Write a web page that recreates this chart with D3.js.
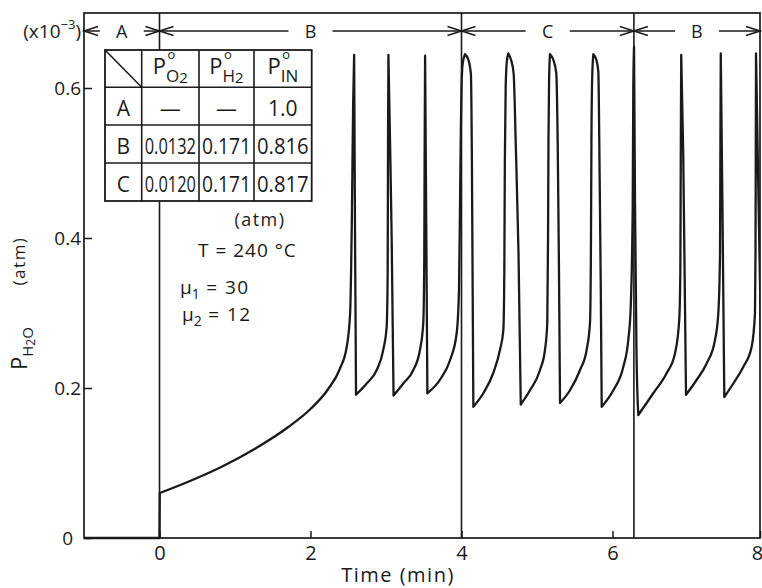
<!DOCTYPE html>
<html><head><meta charset="utf-8">
<script src="https://cdn.jsdelivr.net/npm/d3@7"></script>
<style>
html,body{margin:0;padding:0;background:#fff;}
svg{display:block;font-family:"Open Sans",sans-serif;}
</style></head><body>
<svg id="chart" width="762" height="588"></svg>
<script>
// ---------------- data ----------------
const timeMin = [
  -1, 0, 0.004, 0.381, 0.824, 1.265, 1.706, 2.0, 2.23, 2.391, 2.48, 2.525, 2.547, 2.565, 2.578, 2.59, 2.603,
  2.744, 2.877, 2.964, 3.009, 3.022, 3.027, 3.032, 3.055, 3.075, 3.100,
  3.229, 3.362, 3.45, 3.494, 3.507, 3.512, 3.518, 3.533, 3.548,
  3.715, 3.848, 3.936, 3.967, 3.980, 3.993, 4.0, 4.015, 4.046, 4.09, 4.125, 4.138, 4.157,
  4.289, 4.421, 4.51, 4.554, 4.567, 4.574, 4.585, 4.60, 4.62, 4.655, 4.69, 4.72, 4.755, 4.785,
  4.907, 5.04, 5.106, 5.136, 5.146, 5.152, 5.16, 5.172, 5.215, 5.255, 5.275, 5.29, 5.305,
  5.437, 5.57, 5.658, 5.702, 5.715, 5.721, 5.73, 5.746, 5.785, 5.812, 5.83, 5.845, 5.857,
  6.011, 6.146, 6.214, 6.247, 6.274, 6.282, 6.292, 6.305, 6.325, 6.35,
  6.553, 6.735, 6.847, 6.905, 6.92, 6.926, 6.932, 6.959, 6.997,
  7.142, 7.278, 7.39, 7.435, 7.458, 7.463, 7.468, 7.49, 7.516,
  7.638, 7.773, 7.887, 7.932, 7.939, 7.943, 7.946, 7.98, 8.027
];
// P_H2O in units of 1e-3 atm
const pH2O = [
  0, 0, 0.060, 0.075, 0.095, 0.119, 0.148, 0.172, 0.198, 0.226, 0.255, 0.30, 0.42, 0.58, 0.644, 0.40, 0.191,
  0.206, 0.224, 0.251, 0.282, 0.353, 0.53, 0.644, 0.52, 0.40, 0.190,
  0.206, 0.224, 0.251, 0.287, 0.375, 0.52, 0.643, 0.42, 0.193,
  0.211, 0.237, 0.273, 0.331, 0.442, 0.557, 0.60, 0.632, 0.645, 0.638, 0.618, 0.50, 0.175,
  0.193, 0.220, 0.251, 0.277, 0.353, 0.50, 0.60, 0.635, 0.646, 0.638, 0.62, 0.52, 0.38, 0.178,
  0.197, 0.224, 0.251, 0.287, 0.397, 0.53, 0.61, 0.645, 0.638, 0.62, 0.52, 0.37, 0.18,
  0.197, 0.224, 0.251, 0.287, 0.397, 0.53, 0.61, 0.645, 0.638, 0.622, 0.48, 0.33, 0.175,
  0.197, 0.228, 0.264, 0.308, 0.442, 0.60, 0.655, 0.45, 0.25, 0.164,
  0.193, 0.220, 0.246, 0.291, 0.357, 0.517, 0.644, 0.513, 0.191,
  0.211, 0.233, 0.264, 0.30, 0.38, 0.52, 0.646, 0.45, 0.188,
  0.206, 0.228, 0.255, 0.30, 0.38, 0.52, 0.646, 0.45, 0.19
];
const xTicks = [0, 2, 4, 6, 8];
const yTicks = [0, 0.2, 0.4, 0.6];
const yTickLabels = ["0", "0.2", "0.4", "0.6"];
const regionNames = ["A", "B", "C", "B"];
const regionEdges = [-1, 0, 4, 6.29, 8];
const tableRows = ["A", "B", "C"];
const headSub = ["O", "H", "IN"];
const headSubSub = ["2", "2", ""];
const pO2 = ["\u2014", "0.0132", "0.0120"];
const pH2 = ["\u2014", "0.171", "0.171"];
const pIN = ["1.0", "0.816", "0.817"];
const tempLabel = "T = 240 \u00B0C";
const mu1 = 30, mu2 = 12;

// ---------------- layout ----------------
const ink = "#1a1a1a";
const svg = d3.select("#chart");
const L = 84, R = 760, T = 13, B = 538;
const x = d3.scaleLinear().domain([-1, 0, 6, 8]).range([L, 159.5, 612.5, R]);
const y = d3.scaleLinear().domain([0, 0.7]).range([B, T]);

svg.append("defs").append("clipPath").attr("id", "clip")
  .append("rect").attr("x", L).attr("y", 0).attr("width", R - L).attr("height", B + 6);

// frame
svg.append("rect").attr("x", L).attr("y", T).attr("width", R - L).attr("height", B - T)
  .attr("fill", "none").attr("stroke", ink).attr("stroke-width", 1.7);

// region separators
svg.append("g").selectAll("line").data(regionEdges.slice(1, -1)).join("line")
  .attr("x1", d => x(d)).attr("x2", d => x(d)).attr("y1", T).attr("y2", B)
  .attr("stroke", ink).attr("stroke-width", 1.6);

// data line: smooth monotone pieces between turning points
const pts = timeMin.map((t, i) => ({ t, v: pH2O[i] }));
const pieces = [];
let cur = [pts[0]];
for (let i = 1; i < pts.length; i++) {
  cur.push(pts[i]);
  if (i < pts.length - 1) {
    const d1 = pts[i].v - pts[i - 1].v, d2 = pts[i + 1].v - pts[i].v;
    const m1 = d1 / (pts[i].t - pts[i - 1].t), m2 = d2 / (pts[i + 1].t - pts[i].t);
    const turn = Math.sign(d1) !== Math.sign(d2);
    const kink = Math.abs(m1) > 50 * Math.abs(m2);
    if (turn || kink) { pieces.push(cur); cur = [pts[i]]; }
  }
}
pieces.push(cur);
const lineGen = d3.line().x(d => x(d.t)).y(d => y(d.v)).curve(d3.curveMonotoneX);
svg.append("path")
  .attr("clip-path", "url(#clip)")
  .attr("fill", "none").attr("stroke", ink).attr("stroke-width", 2.3)
  .attr("stroke-linejoin", "round").attr("stroke-linecap", "round")
  .attr("d", pieces.map(p => lineGen(p)).join(""));

// axes
const xAxis = svg.append("g").attr("transform", `translate(0,${B})`)
  .call(d3.axisBottom(x).tickValues(xTicks).tickSizeInner(-7).tickSizeOuter(0).tickPadding(8).tickFormat(d3.format("d")));
xAxis.select(".domain").remove();
xAxis.selectAll("line").attr("stroke", ink).attr("stroke-width", 1.5);
xAxis.selectAll("text").attr("font-size", 20).attr("fill", ink).attr("font-family", "Open Sans");
xAxis.selectAll(".tick").filter(d => d === 8).select("text").attr("x", -3);

const yAxis = svg.append("g").attr("transform", `translate(${L},0)`)
  .call(d3.axisLeft(y).tickValues(yTicks).tickSizeInner(-8).tickSizeOuter(0).tickPadding(3).tickFormat((d, i) => yTickLabels[i]));
yAxis.select(".domain").remove();
yAxis.selectAll("line").attr("stroke", ink).attr("stroke-width", 1.5);
yAxis.selectAll("text").attr("font-size", 19).attr("fill", ink).attr("font-family", "Open Sans");
yAxis.selectAll(".tick").filter(d => d === 0).select("text").attr("x", -11);

// axis titles
svg.append("text").attr("x", 398).attr("y", 582).attr("text-anchor", "middle")
  .attr("font-size", 20).attr("letter-spacing", 1.5).attr("fill", ink).text("Time (min)");

const yt = svg.append("text").attr("transform", "translate(27,370) rotate(-90)").attr("fill", ink);
yt.append("tspan").attr("font-size", 22).text("P");
yt.append("tspan").attr("font-size", 15).attr("dy", 6).text("H");
yt.append("tspan").attr("font-size", 12).attr("dy", 2).text("2");
yt.append("tspan").attr("font-size", 15).attr("dy", -2).text("O");
svg.append("text").attr("transform", "translate(25,261) rotate(-90)").attr("text-anchor", "middle")
  .attr("font-size", 17).attr("letter-spacing", 1.5).attr("fill", ink).text("(atm)");

// scale factor label
const sf = svg.append("text").attr("x", 81).attr("y", 38).attr("text-anchor", "end").attr("fill", ink).attr("font-size", 19);
sf.append("tspan").text("(x10");
sf.append("tspan").attr("font-size", 13).attr("dy", -9).text("\u22123");
sf.append("tspan").attr("dy", 9).text(")");

// region header arrows
const hy = 31;
const hdr = svg.append("g").attr("stroke", ink).attr("stroke-width", 1.5).attr("fill", "none");
regionNames.forEach((name, i) => {
  const a = x(regionEdges[i]), b = x(regionEdges[i + 1]), m = (a + b) / 2;
  const gap = Math.min(22, (b - a) / 2 - 14);
  hdr.append("line").attr("x1", a).attr("x2", m - gap).attr("y1", hy).attr("y2", hy);
  hdr.append("line").attr("x1", m + gap).attr("x2", b).attr("y1", hy).attr("y2", hy);
  hdr.append("path").attr("d", `M${a + 14},${hy - 4.5}L${a},${hy}L${a + 14},${hy + 4.5}`);
  hdr.append("path").attr("d", `M${b - 14},${hy - 4.5}L${b},${hy}L${b - 14},${hy + 4.5}`);
  svg.append("text").attr("x", m).attr("y", hy + 6.5).attr("text-anchor", "middle")
    .attr("font-size", 18).attr("fill", ink).text(name);
});

// table
const colX = [105, 141.7, 199, 254, 311.7];
const rowY = [50, 87.3, 125, 163, 201];
const tbl = svg.append("g");
tbl.append("rect").attr("x", colX[0]).attr("y", rowY[0]).attr("width", colX[4] - colX[0]).attr("height", rowY[4] - rowY[0])
  .attr("fill", "#fff").attr("stroke", ink).attr("stroke-width", 1.8);
colX.slice(1, -1).forEach(cx => tbl.append("line").attr("x1", cx).attr("x2", cx).attr("y1", rowY[0]).attr("y2", rowY[4]).attr("stroke", ink).attr("stroke-width", 1.6));
rowY.slice(1, -1).forEach(ry => tbl.append("line").attr("x1", colX[0]).attr("x2", colX[4]).attr("y1", ry).attr("y2", ry).attr("stroke", ink).attr("stroke-width", 1.6));
tbl.append("line").attr("x1", colX[0]).attr("y1", rowY[0]).attr("x2", colX[1]).attr("y2", rowY[1]).attr("stroke", ink).attr("stroke-width", 1.6);

function measure(str, size) {
  const t = svg.append("text").attr("font-size", size).text(str);
  const w = t.node().getComputedTextLength();
  t.remove();
  return w;
}
headSub.forEach((s, i) => {
  const c0 = colX[i + 1], c1 = colX[i + 2], cx = (c0 + c1) / 2;
  const pw = measure("P", 22);
  const sw = measure(s, 17) + (headSubSub[i] ? measure(headSubSub[i], 15) : 0);
  const x0 = cx - (pw + sw) / 2;
  const t = tbl.append("text").attr("x", x0).attr("y", 74).attr("fill", ink);
  t.append("tspan").attr("font-size", 22).text("P");
  t.append("tspan").attr("font-size", 17).attr("dy", 8).text(s);
  if (headSubSub[i]) t.append("tspan").attr("font-size", 15).attr("dy", 1).text(headSubSub[i]);
  tbl.append("text").attr("x", x0 + pw + 1.5).attr("y", 59).attr("font-size", 13).attr("fill", ink).text("o");
});

const cols = [tableRows, pO2, pH2, pIN];
cols.forEach((col, c) => {
  const c0 = colX[c], c1 = colX[c + 1], cx = (c0 + c1) / 2;
  const avail = c1 - c0 - 6;
  col.forEach((val, r) => {
    const g = tbl.append("g");
    const t = g.append("text").attr("x", 0).attr("y", 0).attr("text-anchor", "middle")
      .attr("font-size", 21).attr("fill", ink).text(val);
    const w = t.node().getComputedTextLength();
    const sx = w > avail ? avail / w : 1;
    g.attr("transform", `translate(${cx},${rowY[r + 1] + 29}) scale(${sx},1)`);
  });
});

// annotations
svg.append("text").attr("x", 260).attr("y", 226).attr("text-anchor", "middle").attr("font-size", 18)
  .attr("letter-spacing", 1.5).attr("fill", ink).text("(atm)");
svg.append("text").attr("x", 198).attr("y", 257).attr("font-size", 19).attr("letter-spacing", 1)
  .attr("fill", ink).text(tempLabel);
[[mu1, "1", 294], [mu2, "2", 321]].forEach(([val, idx, yy], k) => {
  const t = svg.append("text").attr("x", 180 + 2 * k).attr("y", yy).attr("font-size", 19).attr("fill", ink);
  t.append("tspan").text("\u03BC");
  t.append("tspan").attr("font-size", 14).attr("dy", 5).text(idx);
  t.append("tspan").attr("dy", -5).attr("letter-spacing", 1.5).text(" = " + val);
});
</script>
</body></html>
